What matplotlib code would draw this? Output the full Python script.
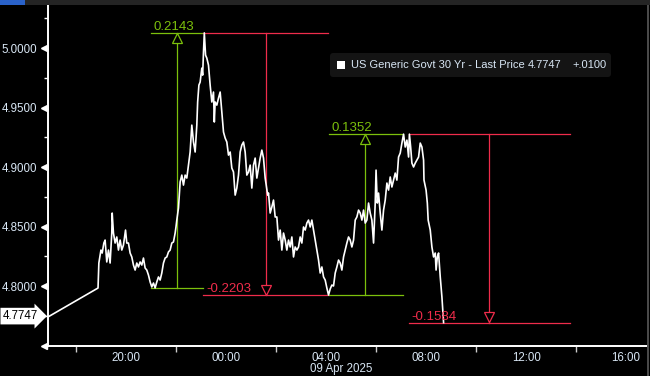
import matplotlib
matplotlib.use("Agg")
import pandas as pd
import matplotlib.pyplot as plt
import matplotlib.dates as mdates
from matplotlib.ticker import FixedLocator, MultipleLocator
from matplotlib.transforms import blended_transform_factory, ScaledTranslation, IdentityTransform
from matplotlib.patches import FancyBboxPatch, Rectangle

plt.rcParams["font.family"] = ["Liberation Sans", "DejaVu Sans"]

# minutes after 08 Apr 2025 20:00 and the yield
minutes = [-187, -67, -65, -60, -57, -53, -50, -46, -42, -38, -34, -33, -30, -26, -22, -18, -14, -10, -6, -1,
           2, 6, 10, 14, 18, 22, 26, 30, 34, 38, 42, 46, 50, 54, 58, 62, 66, 70, 74, 78,
           82, 86, 90, 94, 98, 102, 106, 110, 114, 118, 120, 122, 126, 130, 134, 138, 142, 146, 150, 154,
           158, 162, 166, 170, 172, 175, 178, 182, 184, 186, 188, 191, 194, 198, 202, 206, 210, 212, 214, 218,
           222, 226, 230, 234, 238, 242, 246, 250, 254, 258, 262, 266, 270, 274, 278, 282, 286, 290, 294, 298,
           302, 306, 310, 314, 318, 322, 326, 330, 334, 340, 342, 346, 350, 354, 358, 362, 366, 370, 374, 378,
           382, 386, 390, 394, 398, 402, 406, 410, 414, 418, 422, 426, 430, 434, 438, 442, 446, 450, 454, 458,
           462, 466, 470, 474, 478, 482, 486, 490, 494, 498, 502, 506, 510, 514, 518, 522, 526, 530, 534, 538,
           542, 546, 550, 554, 558, 562, 566, 570, 574, 578, 582, 586, 590, 594, 598, 600, 603, 606, 610, 614,
           618, 622, 626, 630, 634, 638, 642, 646, 650, 654, 658, 662, 666, 670, 674, 678, 680, 683, 686, 690,
           694, 698, 702, 706, 710, 714, 715, 720, 723, 725, 730, 734, 738, 742, 744, 747, 750, 754, 758, 760,
           762]
prices = [4.7740, 4.7983, 4.8193, 4.8302, 4.8277, 4.8361, 4.8386, 4.8202, 4.8302, 4.8193, 4.8445, 4.8613, 4.8445, 4.8361, 4.8412, 4.8302, 4.8386, 4.8302, 4.8344, 4.8470,
          4.8361, 4.8361, 4.8277, 4.8244, 4.8176, 4.8134, 4.8193, 4.8160, 4.8202, 4.8176, 4.8235, 4.8151, 4.8134, 4.8092, 4.8034, 4.7992, 4.8025, 4.7984, 4.8034, 4.8076,
          4.8050, 4.8109, 4.8193, 4.8235, 4.8244, 4.8286, 4.8302, 4.8361, 4.8370, 4.8445, 4.8496, 4.8554, 4.8655, 4.8874, 4.8932, 4.8848, 4.8932, 4.8907, 4.9016, 4.9126,
          4.9352, 4.9210, 4.9126, 4.9352, 4.9546, 4.9688, 4.9714, 4.9831, 4.9772, 4.9966, 5.0127, 4.9940, 4.9915, 4.9856, 4.9688, 4.9546, 4.9630, 4.9378, 4.9546, 4.9520,
          4.9579, 4.9630, 4.9462, 4.9294, 4.9243, 4.9210, 4.9100, 4.9126, 4.8991, 4.8958, 4.8764, 4.8823, 4.8932, 4.9126, 4.9184, 4.9210, 4.9126, 4.8932, 4.8958, 4.9016,
          4.8823, 4.9016, 4.9075, 4.8907, 4.8991, 4.9075, 4.9142, 4.9075, 4.8907, 4.8764, 4.8781, 4.8613, 4.8664, 4.8722, 4.8580, 4.8580, 4.8386, 4.8470, 4.8302, 4.8445,
          4.8386, 4.8302, 4.8386, 4.8328, 4.8412, 4.8244, 4.8328, 4.8302, 4.8328, 4.8412, 4.8361, 4.8496, 4.8470, 4.8529, 4.8554, 4.8496, 4.8554, 4.8470, 4.8386, 4.8302,
          4.8218, 4.8109, 4.8160, 4.8076, 4.8050, 4.7983, 4.7924, 4.7975, 4.8008, 4.8000, 4.8109, 4.8160, 4.8218, 4.8193, 4.8134, 4.8244, 4.8302, 4.8361, 4.8412, 4.8386,
          4.8328, 4.8386, 4.8554, 4.8580, 4.8638, 4.8613, 4.8554, 4.8638, 4.8529, 4.8554, 4.8697, 4.8613, 4.8554, 4.8361, 4.8697, 4.8974, 4.8697, 4.8781, 4.8613, 4.8470,
          4.8638, 4.8722, 4.8865, 4.8806, 4.8916, 4.8832, 4.8890, 4.8949, 4.8890, 4.9084, 4.9117, 4.9201, 4.9276, 4.9168, 4.9226, 4.9084, 4.9276, 4.9168, 4.9033, 4.9000,
          4.9033, 4.9058, 4.9084, 4.9201, 4.9168, 4.9058, 4.8890, 4.8806, 4.8697, 4.8554, 4.8470, 4.8328, 4.8244, 4.8277, 4.8134, 4.8244, 4.8277, 4.8076, 4.7908, 4.7798,
          4.7692]

# high/low study: move label, start level, end level, x of the arrow, span of the guide lines (minutes)
moves = ["0.2143", "-0.2203", "0.1352", "-0.1584"]
lvl_from = [4.7984, 5.0127, 4.7924, 4.9276]
lvl_to = [5.0127, 4.7924, 4.9276, 4.7692]
arrow_min = [123, 336, 574, 871]
span_start = [60, 186, 486, 679]
span_end = [185, 485, 664, 1066]

last_price = "4.7747"
change = "+.0100"
series_name = "US Generic Govt 30 Yr - Last Price"

base = pd.Timestamp("2025-04-08 20:00")
times = base + pd.to_timedelta(minutes, unit="m")

GREEN = "#7cc00c"
RED = "#ef2c4b"
TXT = "#d8e6f4"

fig = plt.figure(figsize=(6.5, 3.76), dpi=100, facecolor="black")
ax = fig.add_axes([48 / 650, 30 / 376, 599 / 650, 341 / 376], facecolor="black")

ax.plot(times, prices, color="white", lw=1.2, zorder=3)

ax.set_xlim(base + pd.Timedelta(minutes=-187), base + pd.Timedelta(minutes=1250))
ax.set_ylim(4.74958, 5.03614)

# guide lines, arrows and labels of the study
for i in range(4):
    c = GREEN if float(moves[i]) > 0 else RED
    t0 = base + pd.Timedelta(minutes=span_start[i])
    t1 = base + pd.Timedelta(minutes=span_end[i])
    ta = base + pd.Timedelta(minutes=arrow_min[i])
    ax.plot([t0, t1], [lvl_from[i], lvl_from[i]], color=c, lw=0.9, zorder=2)
    ax.plot([t0, t1], [lvl_to[i], lvl_to[i]], color=c, lw=0.9, zorder=2)
    ax.plot([ta, ta], [lvl_from[i], lvl_to[i]], color=c, lw=0.9, zorder=2)
    up = lvl_to[i] > lvl_from[i]
    ms = 7.5
    off = ScaledTranslation(0, (-ms / 2 if up else ms / 2) / 72, fig.dpi_scale_trans)
    ax.plot([ta], [lvl_to[i]], marker="^" if up else "v", ms=ms, mfc="black", mec=c, mew=0.9,
            transform=ax.transData + off, zorder=4)
    ax.text(t0 + pd.Timedelta(minutes=6), lvl_to[i], moves[i], color=c, fontsize=9.5,
            ha="left", va="bottom", zorder=5)

# axes styling
for s in ["top", "right"]:
    ax.spines[s].set_visible(False)
for s in ["left", "bottom"]:
    ax.spines[s].set_color("white")
    ax.spines[s].set_linewidth(1.4)

ax.xaxis.set_major_locator(mdates.HourLocator(byhour=[0, 4, 8, 12, 16, 20]))
ax.xaxis.set_major_formatter(mdates.DateFormatter("%H:%M"))
ax.xaxis.set_minor_locator(mdates.HourLocator(byhour=[2, 6, 10, 14, 18, 22]))
ax.tick_params(axis="x", which="major", length=0, pad=4, colors=TXT, labelsize=8.3)
ax.tick_params(axis="x", which="minor", length=4, width=1, color="#cccccc")

ytick_vals = [4.80, 4.85, 4.90, 4.95, 5.00]
ax.yaxis.set_major_locator(FixedLocator(ytick_vals))
ax.yaxis.set_major_formatter(lambda v, p: f"{v:.4f}")
ax.yaxis.set_minor_locator(MultipleLocator(0.025))
ax.tick_params(axis="y", which="major", length=0, pad=7.5, colors=TXT, labelsize=8.3)
ax.tick_params(axis="y", which="minor", length=3, width=1, color="white")

# triangle tick marks on the value axis
tri = blended_transform_factory(ax.transAxes, ax.transData) + ScaledTranslation(-4.5 / 100, 0, fig.dpi_scale_trans)
ax.plot([0] * 6, [4.75] + ytick_vals, ls="none", marker="<", ms=5, color="white",
        transform=tri, clip_on=False, zorder=6)

# last price tag on the value axis
tag = blended_transform_factory(ax.transAxes, ax.transData) + ScaledTranslation(-10 / 100, 0, fig.dpi_scale_trans)
ax.text(0, float(last_price), last_price, transform=tag, ha="right", va="center", fontsize=8.3,
        color="black", bbox=dict(boxstyle="rarrow,pad=0.2", fc="white", ec="none"), clip_on=False, zorder=7)

# date under the time axis
fig.text(341 / 650, 7 / 376, "09 Apr 2025", ha="center", va="center", color=TXT, fontsize=8.3)

# legend box
px = IdentityTransform()
fig.patches.append(FancyBboxPatch((330, 299), 281, 24, boxstyle="round,pad=0,rounding_size=3",
                                  fc="#141414", ec="none", transform=px, figure=fig))
fig.patches.append(Rectangle((337, 307), 8, 8, fc="white", ec="none", transform=px, figure=fig))
fig.text(351, 311, series_name, transform=px, color=TXT, fontsize=8, va="center")
fig.text(528, 311, last_price, transform=px, color=TXT, fontsize=8, va="center")
fig.text(572, 311, change, transform=px, color=TXT, fontsize=8, va="center")

# top toolbar strip and right frame edge
fig.patches.append(Rectangle((0, 371), 650, 5, fc="#242424", ec="none", transform=px, figure=fig))
fig.patches.append(Rectangle((0, 371), 25, 5, fc="#2a62c9", ec="none", transform=px, figure=fig))
fig.patches.append(Rectangle((647, 0), 2, 371, fc="#4a4a4a", ec="none", transform=px, figure=fig))

fig.savefig("out.png", dpi=100, facecolor="black")
